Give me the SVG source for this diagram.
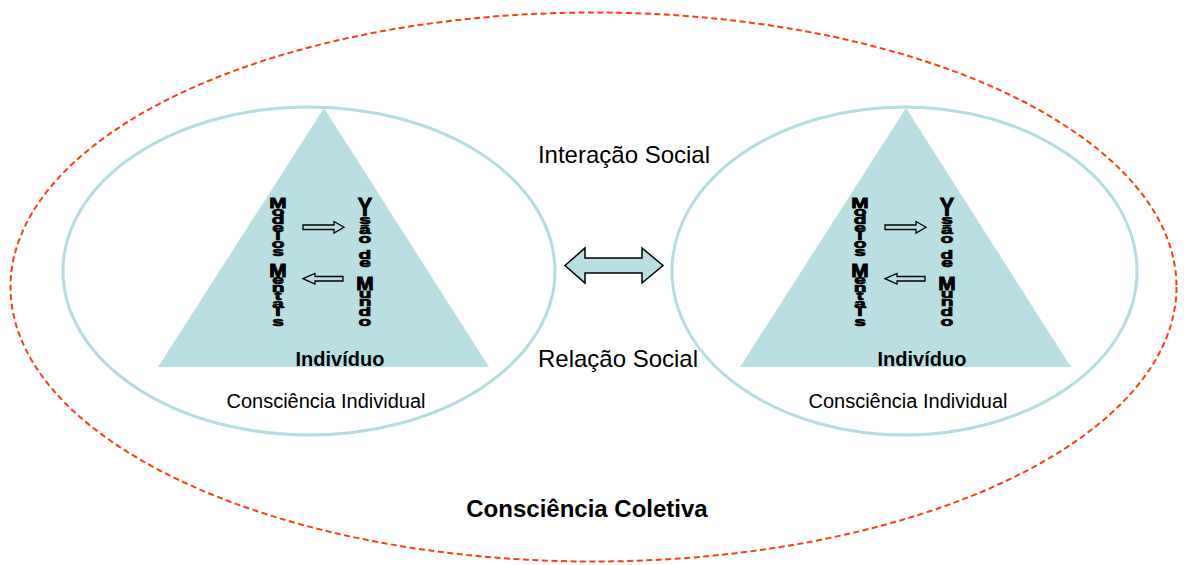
<svg xmlns="http://www.w3.org/2000/svg" width="1186" height="565" viewBox="0 0 1186 565">
<style>
.bg{fill:#ffffff}
.outer{fill:none;stroke:#FF3B0F;stroke-width:2;stroke-dasharray:6 3.5}
.ell{fill:none;stroke:#B5DDE1;stroke-width:3}
.tri{fill:#BADFE3;stroke:none}
.lbl{font-family:"Liberation Sans",Arial,sans-serif;fill:#000;text-anchor:middle}
.v{font-family:"Liberation Sans",Arial,sans-serif;font-weight:bold;font-size:19px;fill:#000;stroke:#000;stroke-width:1;text-anchor:middle}
.small{fill:none;stroke:#000;stroke-width:1.3}
.big{fill:#BADFE3;stroke:#000;stroke-width:1.5;stroke-linejoin:miter}
</style>
<defs>
<g id="inner">
<polygon class="tri" points="324,108 489,367 158,367"/>
<g id="modelos-mentais">
<text class="v" transform="translate(278,208) scale(1.1,0.8)">M</text>
<text class="v" transform="translate(278,216) scale(1.1,0.68)">o</text>
<text class="v" transform="translate(278,224) scale(1.1,0.68)">d</text>
<text class="v" transform="translate(278,232) scale(1.1,0.68)">e</text>
<text class="v" transform="translate(278,240) scale(1.1,0.68)">l</text>
<text class="v" transform="translate(278,248) scale(1.1,0.68)">o</text>
<text class="v" transform="translate(278,256) scale(1.1,0.68)">s</text>
<text class="v" transform="translate(278,277) scale(1.1,0.98)">M</text>
<text class="v" transform="translate(278,284) scale(1.1,0.68)">e</text>
<text class="v" transform="translate(278,292) scale(1.1,0.68)">n</text>
<text class="v" transform="translate(278,300) scale(1.1,0.68)">t</text>
<text class="v" transform="translate(278,308) scale(1.1,0.68)">a</text>
<text class="v" transform="translate(278,316) scale(1.1,0.68)">i</text>
<text class="v" transform="translate(278,326) scale(1.1,0.7)">s</text>
</g>
<g id="visao-de-mundo">
<text class="v" transform="translate(365,208) scale(1.1,0.8)">V</text>
<text class="v" transform="translate(365,216) scale(1.1,0.68)">i</text>
<text class="v" transform="translate(365,224) scale(1.1,0.68)">s</text>
<text class="v" transform="translate(365,234) scale(1.1,0.68)">ã</text>
<text class="v" transform="translate(365,243) scale(1.1,0.7)">o</text>
<text class="v" transform="translate(365,259) scale(1.1,0.72)">d</text>
<text class="v" transform="translate(365,267) scale(1.1,0.68)">e</text>
<text class="v" transform="translate(365,290) scale(1.1,0.92)">M</text>
<text class="v" transform="translate(365,298) scale(1.1,0.68)">u</text>
<text class="v" transform="translate(365,306) scale(1.1,0.68)">n</text>
<text class="v" transform="translate(365,316) scale(1.1,0.72)">d</text>
<text class="v" transform="translate(365,326) scale(1.1,0.72)">o</text>
</g>
<path class="small" d="M303,225 H334 V221.5 L344,227.2 L334,233 V229.5 H303 Z"/>
<path class="small" d="M303,278.7 L315,273.5 V276.5 H343 V281 H315 V284 Z"/>
<text class="lbl" x="340" y="366" font-size="20" font-weight="bold">Indivíduo</text>
<text class="lbl" x="326" y="408" font-size="20">Consciência Individual</text>
</g>
</defs>
<rect class="bg" x="0" y="0" width="1186" height="565"/>
<g id="coletiva">
<ellipse class="outer" cx="593.5" cy="287" rx="583" ry="274.5"/>
<text class="lbl" x="587" y="517" font-size="24" font-weight="bold">Consciência Coletiva</text>
</g>
<g id="individuo-esquerda">
<ellipse class="ell" cx="309" cy="271" rx="246" ry="164"/>
<use href="#inner"/>
</g>
<g id="individuo-direita">
<ellipse class="ell" cx="904.5" cy="271" rx="232.5" ry="164"/>
<use href="#inner" transform="translate(582,0)"/>
</g>
<g id="connectors">
<path class="big" d="M565,265.5 L585,248 L585,258 L642,258 L642,248 L663,265.5 L642,283 L642,273 L585,273 L585,283 Z"/>
<text class="lbl" x="624" y="163" font-size="24">Interação Social</text>
<text class="lbl" x="618" y="367" font-size="24">Relação Social</text>
</g>
</svg>
